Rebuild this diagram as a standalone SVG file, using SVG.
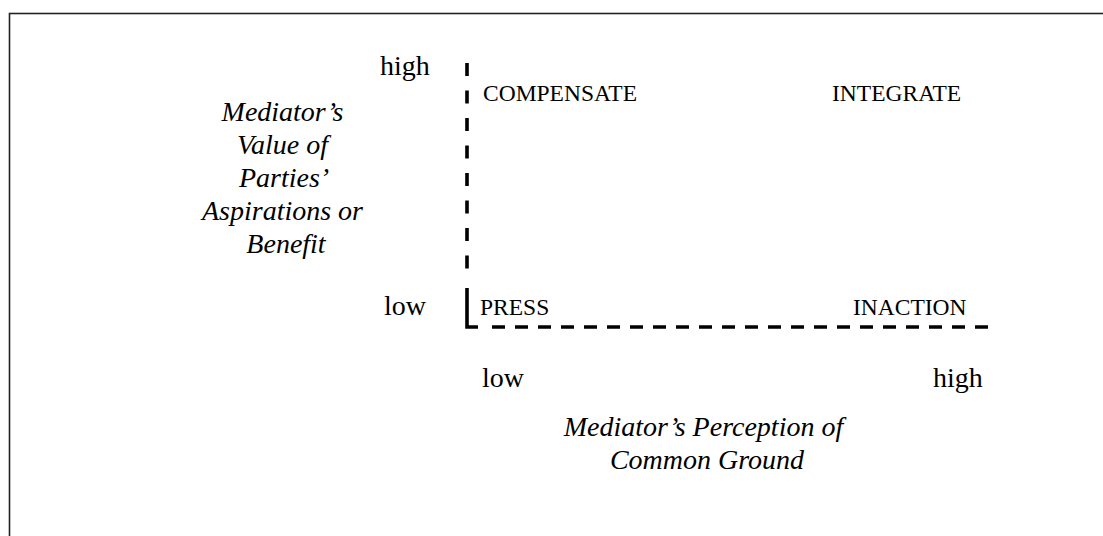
<svg xmlns="http://www.w3.org/2000/svg" width="1103" height="536" viewBox="0 0 1103 536">
  <style>
    .lbl { font-family: "Liberation Serif", "Times New Roman", serif; font-size: 28px; fill: #000; }
    .it { font-style: italic; }
    .quad { font-family: "Liberation Serif", "Times New Roman", serif; font-size: 23.5px; fill: #000; }
    .axis { fill: none; stroke: #000; stroke-width: 3.6; }
  </style>
  <rect width="1103" height="536" fill="#fff"/>
  <!-- page frame, open to the right and bottom -->
  <rect x="9.5" y="13.5" width="1200" height="600" fill="none" stroke="#222" stroke-width="1.6"/>

  <g id="axes">
    <line class="axis" x1="467" y1="63" x2="467" y2="275" stroke-dasharray="13 14.5"/>
    <path class="axis" d="M467,288 V327 H478"/>
    <line class="axis" x1="492" y1="327" x2="989" y2="327" stroke-dasharray="13 10"/>
  </g>

  <g id="y-axis-label">
    <text class="lbl" x="380" y="75">high</text>
    <text class="lbl" x="384" y="315">low</text>
    <text class="lbl it" text-anchor="middle">
      <tspan x="286" y="121">Mediator’s</tspan>
      <tspan x="286" y="154">Value of</tspan>
      <tspan x="286" y="187">Parties’</tspan>
      <tspan x="286" y="220">Aspirations or</tspan>
      <tspan x="286" y="253">Benefit</tspan>
    </text>
  </g>

  <g id="x-axis-label">
    <text class="lbl" x="482" y="387">low</text>
    <text class="lbl" x="933" y="387">high</text>
    <text class="lbl it" text-anchor="middle">
      <tspan x="707" y="436">Mediator’s Perception of</tspan>
      <tspan x="707" y="469">Common Ground</tspan>
    </text>
  </g>

  <g id="compensate"><text class="quad" x="483" y="101">COMPENSATE</text></g>
  <g id="integrate"><text class="quad" x="832" y="101">INTEGRATE</text></g>
  <g id="press"><text class="quad" x="480" y="315">PRESS</text></g>
  <g id="inaction"><text class="quad" x="853" y="315">INACTION</text></g>
</svg>
